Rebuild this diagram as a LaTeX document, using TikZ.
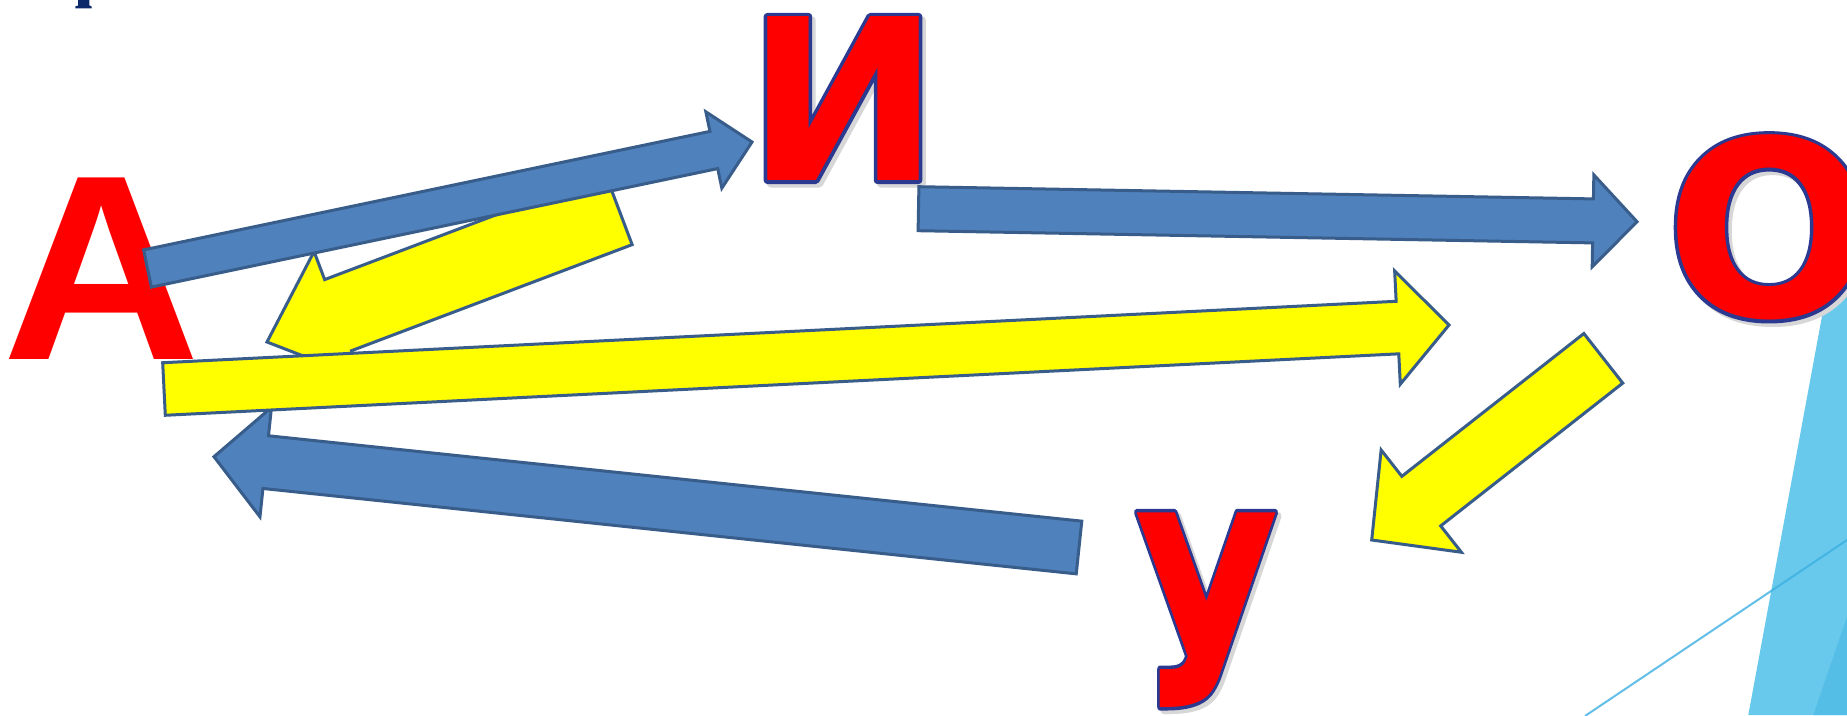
\documentclass[tikz,border=0pt]{standalone}
\usepackage{fontspec}
\usepackage{graphicx}
\usetikzlibrary{calc}
\newfontfamily\arialf{Liberation Sans}
\newfontfamily\dejavuf{DejaVu Sans}
\definecolor{letterred}{RGB}{255,0,0}
\definecolor{letteredge}{RGB}{43,57,144}
\definecolor{arrowblue}{RGB}{79,129,189}
\definecolor{arrowedge}{RGB}{56,93,138}
\definecolor{arrowyellow}{RGB}{255,255,0}
\definecolor{decoblue}{RGB}{104,201,236}
\definecolor{decodark}{RGB}{84,190,230}
\definecolor{decoline}{RGB}{60,175,225}
\definecolor{navytext}{RGB}{13,40,105}
\definecolor{shadowgray}{RGB}{215,215,215}
% text filled and stroked in its own colour (widened glyph), round joins
\newcommand\widetext[1]{\special{pdf:code 2 Tr 7 w 1 J 1 j}#1\special{pdf:code 0 Tr}}
\tikzset{
  glyph/.style={inner sep=0pt, outer sep=0pt, anchor=base west},
  fontA/.style={font=\arialf\bfseries\fontsize{264}{264}\selectfont},
  fontI/.style={font=\dejavuf\bfseries\fontsize{225}{225}\selectfont},
  fontO/.style={font=\dejavuf\bfseries\fontsize{245}{245}\selectfont},
  fontU/.style={font=\dejavuf\bfseries\fontsize{267}{267}\selectfont},
  shadow/.style={text=shadowgray},
  edge/.style={text=letteredge},
  bluearrow/.style={fill=arrowblue, draw=arrowedge, line width=3pt, line join=miter},
  yellowarrow/.style={fill=arrowyellow, draw=arrowedge, line width=3pt, line join=miter},
}
% block arrow: #1 style, #2 tail, #3 tip, #4 shaft half width, #5 head half width, #6 head length
\newcommand\blockarrow[6]{%
  \coordinate (ba-j) at ($(#3)!#6pt!(#2)$);
  \draw[#1] ($(#2)!#4pt!90:(#3)$) -- ($(ba-j)!#4pt!-90:(#2)$) -- ($(ba-j)!#5pt!-90:(#2)$)
    -- (#3) -- ($(ba-j)!#5pt!90:(#2)$) -- ($(ba-j)!#4pt!90:(#2)$) -- ($(#2)!#4pt!-90:(#3)$) -- cycle;
}
\begin{document}
\begin{tikzpicture}[x=1pt,y=-1pt]
\useasboundingbox (0,0) rectangle (1847,715);
\fill[white] (0,0) rectangle (1847,715);
% slide decoration
\fill[decoblue] (1849,170) -- (1748.3,715) -- (1850,715) -- cycle;
\fill[decodark] (1813.3,715) -- (1847,616.7) -- (1850,616.7) -- (1850,715) -- cycle;
\draw[decoline, line width=2pt, opacity=0.8] (1585,716) -- (1850,538);
% fragment of title glyph
\fill[navytext] (78.3,-1) -- (89.3,-1) -- (89.5,5.5) -- (91.7,6.5) -- (91.7,8.3) -- (75.3,8.3) -- (75.3,6.5) -- (78,5.5) -- cycle;
% shadows of the outlined letters
\node[glyph,fontI,shadow] (sI) at (749.5,184) {\scalebox{1.03}[1]{\widetext{И}}};
\node[glyph,fontO,shadow] (sO) at (1668.5,320) {\widetext{О}};
\node[glyph,fontU,shadow] (sU) at (1134.5,710.5) {\scalebox{0.73}[1]{\widetext{У}}};
% dark blue edges of the letters
\node[glyph,fontI,edge] (eI) at (746,180.5) {\scalebox{1.03}[1]{\widetext{И}}};
\node[glyph,fontO,edge] (eO) at (1665,316.5) {\widetext{О}};
\node[glyph,fontU,edge] (eU) at (1131,707) {\scalebox{0.73}[1]{\widetext{У}}};
% red letters
\node[glyph,fontA,text=letterred] (lA) at (2.4,359) {\scalebox{1.04}[1]{А}};
\node[glyph,fontI,text=letterred] (lI) at (746,180.5) {\scalebox{1.03}[1]{И}};
\node[glyph,fontO,text=letterred] (lO) at (1665,316.5) {О};
\node[glyph,fontU,text=letterred] (lU) at (1131,707) {\scalebox{0.73}[1]{У}};
% arrow end points
\coordinate (ya1t) at (618.7,209.1); \coordinate (ya1h) at (267,342);
\coordinate (b1t) at (147.5,268.5);  \coordinate (b1h) at (752,142);
\coordinate (b3t) at (1079,547.5);   \coordinate (b3h) at (214,456.7);
\coordinate (y2t) at (164,389);      \coordinate (y2h) at (1449,325);
\coordinate (b2t) at (918.5,208.7);  \coordinate (b2h) at (1637,221.7);
\coordinate (y3t) at (1603.3,358.3); \coordinate (y3h) at (1371.7,540);
% arrows
\blockarrow{yellowarrow}{ya1t}{ya1h}{38}{68}{76}
\blockarrow{bluearrow}{b1t}{b1h}{19}{39}{39}
\blockarrow{bluearrow}{b3t}{b3h}{26.5}{55}{52}
\blockarrow{yellowarrow}{y2t}{y2h}{26.3}{56.7}{51.6}
\blockarrow{bluearrow}{b2t}{b2h}{22}{46}{44}
\blockarrow{yellowarrow}{y3t}{y3h}{31.5}{65}{63}
\end{tikzpicture}
\end{document}
